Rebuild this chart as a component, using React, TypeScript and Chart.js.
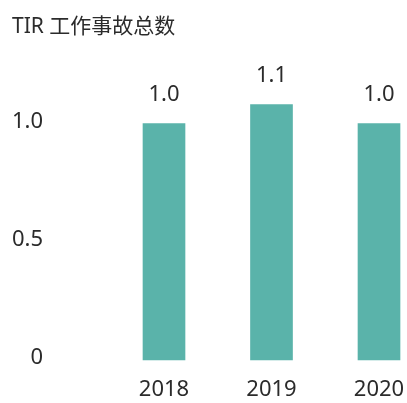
import React, { useEffect, useRef } from "react";
import { Chart, registerables } from "chart.js";

Chart.register(...registerables);

const categories = ["2018", "2019", "2020"];
const values = [1.0, 1.08, 1.0];
const valueLabels = ["1.0", "1.1", "1.0"];
const yTicks = [0, 0.5, 1.0];
const titleText = "TIR 工作事故总数";

const FONT = "'Noto Sans', 'Noto Sans CJK SC', sans-serif";
const TEXT = "#2b2b2b";
const BAR = "#5ab3aa";

const dataLabelPlugin = {
  id: "dataLabels",
  afterDatasetsDraw(chart: any) {
    const ctx = chart.ctx;
    const meta = chart.getDatasetMeta(0);
    ctx.save();
    ctx.fillStyle = TEXT;
    ctx.font = `22px ${FONT}`;
    ctx.textAlign = "center";
    ctx.textBaseline = "middle";
    meta.data.forEach((el: any, i: number) => {
      ctx.fillText(valueLabels[i], el.x, el.y - 29);
    });
    ctx.restore();
  },
};

export default function App() {
  const ref = useRef<HTMLCanvasElement | null>(null);
  useEffect(() => {
    document.body.style.margin = "0";
    const chart = new Chart(ref.current!, {
      type: "bar",
      data: {
        labels: categories,
        datasets: [
          {
            data: values,
            backgroundColor: BAR,
            barThickness: 42,
            clip: false as any,
          },
        ],
      },
      options: {
        animation: false,
        responsive: true,
        maintainAspectRatio: false,
        layout: { padding: { left: 12, right: 28, top: 0, bottom: 1 } },
        plugins: {
          legend: { display: false },
          tooltip: { enabled: false },
          title: {
            display: true,
            text: titleText,
            align: "start",
            color: TEXT,
            font: { family: FONT, size: 21, weight: "normal" },
            padding: { top: 14, bottom: 37 },
          },
        },
        scales: {
          x: {
            offset: false,
            grid: { display: false, drawTicks: false },
            border: { display: false },
            afterFit: (s: any) => {
              s.height = 42;
              s.paddingLeft = 0;
              s.paddingRight = 0;
            },
            ticks: {
              color: TEXT,
              font: { family: FONT, size: 22 },
              padding: 17,
              maxRotation: 0,
            },
          },
          y: {
            min: 0,
            max: 1.2,
            grid: { display: false, drawTicks: false },
            border: { display: false },
            afterFit: (s: any) => {
              s.width = 152;
              s.paddingTop = 0;
              s.paddingBottom = 0;
            },
            afterBuildTicks: (s: any) => {
              s.ticks = yTicks.map((v) => ({ value: v }));
            },
            ticks: {
              color: TEXT,
              font: { family: FONT, size: 22 },
              padding: 121,
              labelOffset: -2,
              callback: (v: any) => (Number(v) === 0 ? "0" : Number(v).toFixed(1)),
            },
          },
        },
      },
      plugins: [dataLabelPlugin],
    });
    return () => chart.destroy();
  }, []);
  return (
    <div style={{ position: "relative", width: 407, height: 403 }}>
      <canvas ref={ref} />
    </div>
  );
}
